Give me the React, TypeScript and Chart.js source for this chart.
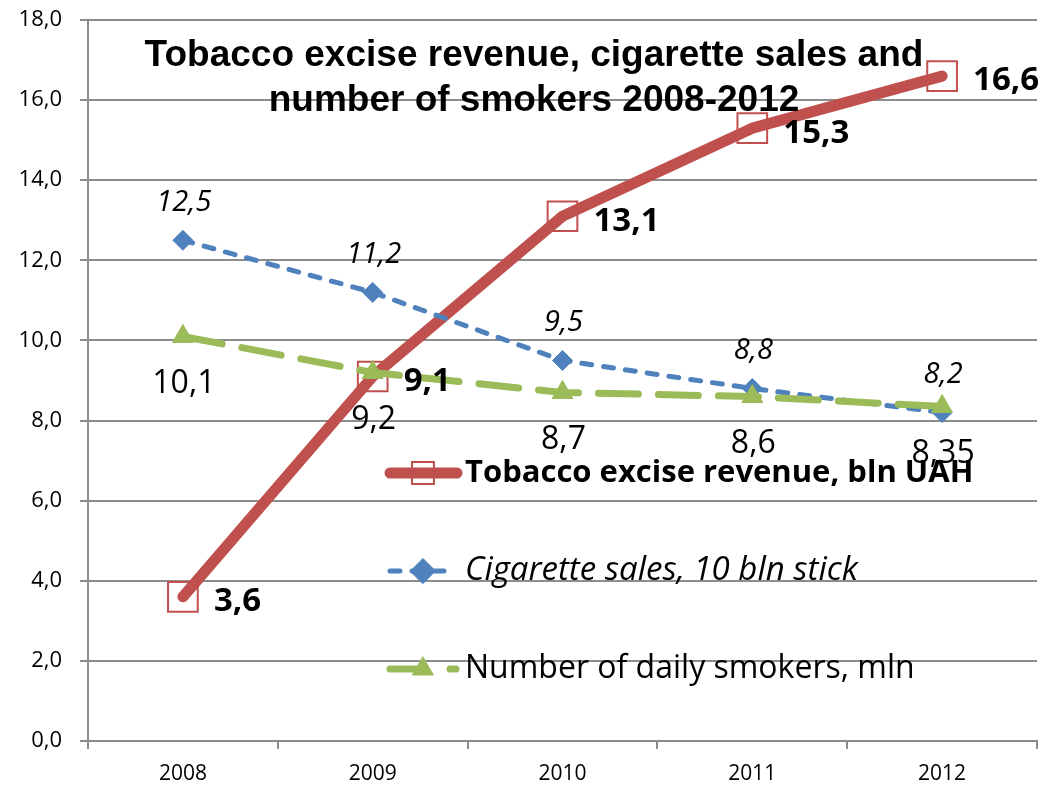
import React, { useEffect, useRef } from 'react';
import { Chart, registerables } from 'chart.js';
import { drawPoint } from 'chart.js/helpers';

Chart.register(...registerables);

const years = ['2008', '2009', '2010', '2011', '2012'];
const revenue = [3.6, 9.1, 13.1, 15.3, 16.6];
const cigaretteSales = [12.5, 11.2, 9.5, 8.8, 8.2];
const dailySmokers = [10.1, 9.2, 8.7, 8.6, 8.35];
const seriesNames = [
  'Tobacco excise revenue, bln UAH',
  'Cigarette sales, 10 bln stick',
  'Number of daily smokers, mln',
];
const titleLines = ['Tobacco excise revenue, cigarette sales and', 'number of smokers 2008-2012'];

const RED = '#C0504D';
const BLUE = '#4F81BD';
const GREEN = '#9BBB59';
const GRID = '#8C8C8C';
const FONT = '"Open Sans", sans-serif';

const fmt = (v: number) => String(v).replace('.', ',');

const labelPlugin = {
  id: 'valueLabels',
  afterDatasetsDraw(chart: any) {
    const ctx = chart.ctx;
    chart.data.datasets.forEach((ds: any, i: number) => {
      const meta = chart.getDatasetMeta(i);
      const st = ds.labelStyle;
      ctx.save();
      ctx.font = st.font;
      ctx.fillStyle = '#000';
      ctx.textAlign = st.align;
      ctx.textBaseline = 'middle';
      meta.data.forEach((pt: any, j: number) => {
        ctx.fillText(fmt(ds.data[j]), pt.x + st.dx, pt.y + st.dy);
      });
      ctx.restore();
    });
  },
};

const overlayPlugin = {
  id: 'overlay',
  afterDraw(chart: any) {
    const ctx = chart.ctx;
    ctx.save();
    // title
    ctx.fillStyle = '#000';
    ctx.font = 'bold 37px "Liberation Sans", Arial, sans-serif';
    ctx.textAlign = 'center';
    ctx.textBaseline = 'middle';
    ctx.fillText(titleLines[0], 534, 56);
    ctx.fillText(titleLines[1], 534, 101);
    // legend
    const rows = [473, 571, 669];
    const fonts = [`bold 31px ${FONT}`, `italic 33px ${FONT}`, `32px ${FONT}`];
    chart.data.datasets.forEach((ds: any, i: number) => {
      const y = rows[i];
      ctx.save();
      ctx.strokeStyle = ds.borderColor;
      ctx.lineWidth = ds.borderWidth;
      ctx.lineCap = 'round';
      ctx.setLineDash(ds.legendDash);
      ctx.beginPath();
      ctx.moveTo(390, y);
      ctx.lineTo(ds.legendEnd, y);
      ctx.stroke();
      ctx.setLineDash([]);
      ctx.lineWidth = ds.pointBorderWidth;
      ctx.strokeStyle = ds.pointBorderColor;
      ctx.fillStyle = ds.pointBackgroundColor;
      drawPoint(ctx, { pointStyle: ds.pointStyle, rotation: 0, radius: ds.legendRadius, borderWidth: ds.pointBorderWidth }, 423, y);
      ctx.restore();
      ctx.fillStyle = '#000';
      ctx.font = fonts[i];
      ctx.textAlign = 'left';
      ctx.textBaseline = 'middle';
      ctx.fillText(seriesNames[i], 465, y);
    });
    ctx.restore();
  },
};

export default function App() {
  const ref = useRef<HTMLCanvasElement>(null);
  useEffect(() => {
    const chart = new Chart(ref.current!, {
      type: 'line',
      data: {
        labels: years,
        datasets: [
          {
            label: seriesNames[0],
            data: revenue,
            borderColor: RED,
            borderWidth: 11,
            borderCapStyle: 'round',
            borderJoinStyle: 'round',
            pointStyle: 'rect',
            pointRadius: 21,
            pointBorderWidth: 2,
            pointBorderColor: RED,
            pointBackgroundColor: 'rgba(255,255,255,0)',
            order: 3,
            tension: 0,
            labelStyle: { font: `bold 33px ${FONT}`, dx: 31, dy: 5, align: 'left' },
            legendDash: [],
            legendEnd: 457,
            legendRadius: 15.5,
          } as any,
          {
            label: seriesNames[1],
            data: cigaretteSales,
            borderColor: BLUE,
            borderWidth: 5,
            borderCapStyle: 'round',
            borderDash: [10, 12],
            pointStyle: 'rectRot',
            pointRadius: 10,
            pointBorderWidth: 1,
            pointBorderColor: BLUE,
            pointBackgroundColor: BLUE,
            order: 2,
            tension: 0,
            labelStyle: { font: `italic 29px ${FONT}`, dx: 1, dy: -38, align: 'center' },
            legendDash: [10, 12],
            legendEnd: 452,
            legendRadius: 12.5,
          } as any,
          {
            label: seriesNames[2],
            data: dailySmokers,
            borderColor: GREEN,
            borderWidth: 7,
            borderCapStyle: 'round',
            borderDash: [40, 20],
            pointStyle: 'triangle',
            pointRadius: 12,
            pointBorderWidth: 1,
            pointBorderColor: GREEN,
            pointBackgroundColor: GREEN,
            order: 1,
            tension: 0,
            labelStyle: { font: `32px ${FONT}`, dx: 1, dy: 47, align: 'center' },
            legendDash: [36, 24],
            legendEnd: 456,
            legendRadius: 12,
          } as any,
        ],
      },
      options: {
        responsive: false,
        animation: false,
        devicePixelRatio: 1,
        layout: { autoPadding: false, padding: { top: 20, right: 13, left: 0, bottom: 0 } },
        plugins: { legend: { display: false }, title: { display: false }, tooltip: { enabled: false } },
        scales: {
          x: {
            type: 'category',
            offset: true,
            grid: { offset: true, drawOnChartArea: false, color: GRID, lineWidth: 2, tickLength: 8 },
            border: { color: GRID, width: 2 },
            ticks: { font: { family: FONT, size: 21 }, color: '#000', padding: 12 },
            afterFit: (s: any) => {
              s.height = 46;
              s.paddingLeft = 0;
              s.paddingRight = 0;
            },
          },
          y: {
            min: 0,
            max: 18,
            grid: { color: GRID, lineWidth: 2, tickLength: 8 },
            border: { color: GRID, width: 2 },
            ticks: {
              stepSize: 2,
              font: { family: FONT, size: 22 },
              color: '#000',
              padding: 18,
              callback: (v: any) => Number(v).toFixed(1).replace('.', ','),
            },
            afterFit: (s: any) => {
              s.width = 88;
              s.paddingTop = 0;
              s.paddingBottom = 0;
            },
          },
        },
      },
      plugins: [labelPlugin, overlayPlugin],
    });
    return () => chart.destroy();
  }, []);
  return (
    <div style={{ position: 'absolute', left: 0, top: 0, width: 1050, height: 787, background: '#fff' }}>
      <canvas ref={ref} width={1050} height={787} style={{ width: 1050, height: 787 }} />
    </div>
  );
}
